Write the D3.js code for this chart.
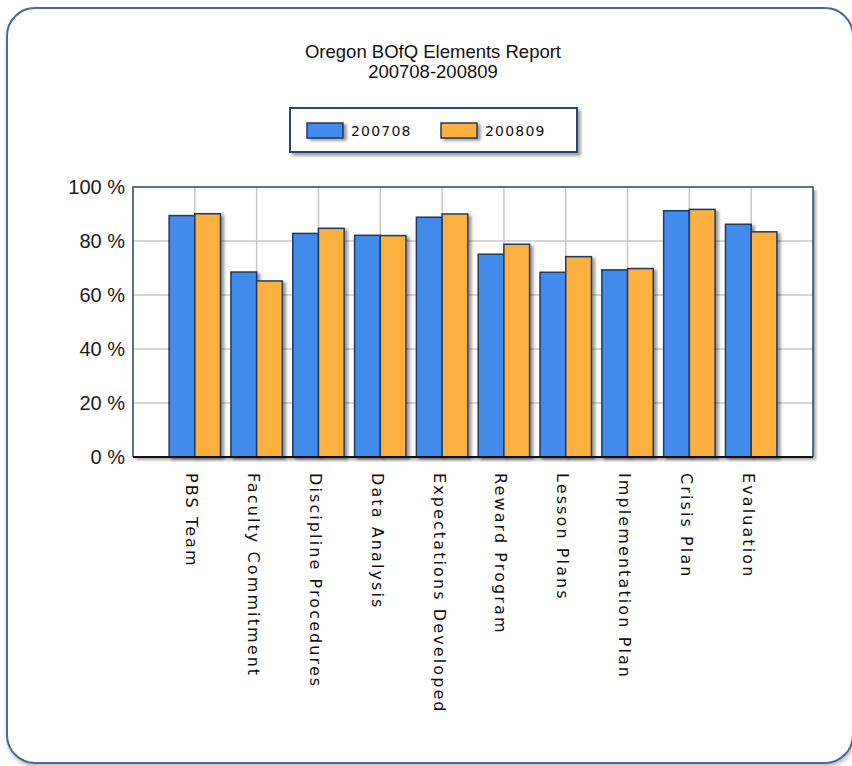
<!DOCTYPE html>
<html>
<head>
<meta charset="utf-8">
<script src="https://cdn.jsdelivr.net/npm/d3@7"></script>
<style>
  body { margin: 0; background: #fff; }
  svg { display: block; }
</style>
</head>
<body>
<div id="chart"></div>
<script>
// data
const categories = ["PBS Team", "Faculty Commitment", "Discipline Procedures", "Data Analysis",
  "Expectations Developed", "Reward Program", "Lesson Plans", "Implementation Plan",
  "Crisis Plan", "Evaluation"];
const seriesNames = ["200708", "200809"];
const values200708 = [89.4, 68.5, 82.8, 82.1, 88.8, 75.1, 68.4, 69.3, 91.2, 86.2];
const values200809 = [90.1, 65.2, 84.7, 82.0, 90.0, 78.8, 74.2, 69.8, 91.7, 83.4];
const yTicks = [0, 20, 40, 60, 80, 100];
const colors = ["#428BEB", "#FBB03F"];

const W = 852, H = 766;
const plot = { left: 133, top: 187, right: 813, bottom: 457 };

const svg = d3.select("#chart").append("svg")
  .attr("width", W)
  .attr("height", H);

const defs = svg.append("defs");
function shadow(id, dx, dy, sd, op) {
  defs.append("filter").attr("id", id)
    .attr("x", "-20%").attr("y", "-20%").attr("width", "150%").attr("height", "150%")
    .append("feDropShadow")
    .attr("dx", dx).attr("dy", dy).attr("stdDeviation", sd)
    .attr("flood-color", "#000").attr("flood-opacity", op);
}
shadow("frameShadow", 1, 3, 2, 0.25);
shadow("boxShadow", 3, 3, 1.5, 0.35);
shadow("barShadow", 3, 2, 1.5, 0.4);

// outer rounded frame
svg.append("rect")
  .attr("x", 7).attr("y", 8)
  .attr("width", 846).attr("height", 755)
  .attr("rx", 28).attr("ry", 28)
  .attr("fill", "#fff")
  .attr("stroke", "#4d6892")
  .attr("stroke-width", 2)
  .attr("filter", "url(#frameShadow)");

// title
const title = svg.append("text")
  .attr("text-anchor", "middle")
  .attr("font-family", "Liberation Sans, Arial, sans-serif")
  .attr("font-size", 18.5)
  .attr("fill", "#111");
title.append("tspan").attr("x", 433).attr("y", 58).text("Oregon BOfQ Elements Report");
title.append("tspan").attr("x", 433).attr("y", 78).text("200708-200809");

// legend
const legend = svg.append("g");
legend.append("rect")
  .attr("x", 290).attr("y", 108).attr("width", 287).attr("height", 44)
  .attr("fill", "#fff")
  .attr("stroke", "#2b4471")
  .attr("stroke-width", 2)
  .attr("filter", "url(#boxShadow)");
const legendX = [307, 441];
seriesNames.forEach((name, i) => {
  legend.append("rect")
    .attr("x", legendX[i]).attr("y", 123).attr("width", 36).attr("height", 15)
    .attr("fill", colors[i])
    .attr("stroke", "#203a62").attr("stroke-width", 1.5)
    .attr("filter", "url(#barShadow)");
  legend.append("text")
    .attr("x", legendX[i] + 44).attr("y", 136)
    .attr("font-family", "DejaVu Sans, Verdana, sans-serif")
    .attr("font-size", 14)
    .attr("letter-spacing", 1.2)
    .attr("fill", "#111")
    .text(name);
});

// scales
const x = d3.scalePoint().domain(categories).range([plot.left, plot.right]).padding(1);
const y = d3.scaleLinear().domain([0, 100]).range([plot.bottom, plot.top]);
const barW = 25.7;

// plot background with shadow
svg.append("rect")
  .attr("x", plot.left).attr("y", plot.top)
  .attr("width", plot.right - plot.left).attr("height", plot.bottom - plot.top)
  .attr("fill", "#fff")
  .attr("filter", "url(#boxShadow)");

// grid lines
const grid = svg.append("g").attr("stroke", "#c8c8c8").attr("stroke-width", 1.5);
grid.selectAll("line.h").data(yTicks.filter(d => d > 0 && d < 100)).join("line")
  .attr("x1", plot.left).attr("x2", plot.right)
  .attr("y1", d => y(d)).attr("y2", d => y(d));
grid.selectAll("line.v").data(categories).join("line")
  .attr("x1", d => x(d)).attr("x2", d => x(d))
  .attr("y1", plot.top).attr("y2", plot.bottom);

// bars
const rows = categories.map((c, i) => ({ c, v: [values200708[i], values200809[i]] }));
const bars = svg.append("g");
seriesNames.forEach((s, k) => {
  bars.selectAll("rect.s" + k).data(rows).join("rect")
    .attr("class", "s" + k)
    .attr("x", d => x(d.c) - barW + k * barW)
    .attr("y", d => y(d.v[k]))
    .attr("width", barW)
    .attr("height", d => y(0) - y(d.v[k]))
    .attr("fill", colors[k])
    .attr("stroke", "#1f3a63")
    .attr("stroke-width", 1.5)
    .attr("filter", "url(#barShadow)");
});

// plot frame
const frame = svg.append("g").attr("fill", "none");
frame.append("path")
  .attr("d", `M${plot.left},${plot.bottom}V${plot.top}H${plot.right}V${plot.bottom}`)
  .attr("stroke", "#2b4471").attr("stroke-width", 1.5);
frame.append("line")
  .attr("x1", plot.left).attr("x2", plot.right)
  .attr("y1", plot.bottom).attr("y2", plot.bottom)
  .attr("stroke", "#111").attr("stroke-width", 2);

// y axis labels
const yAxis = svg.append("g")
  .attr("transform", `translate(${plot.left},0)`)
  .call(d3.axisLeft(y).tickValues(yTicks).tickSize(0).tickPadding(8).tickFormat(d => d + " %"));
yAxis.select(".domain").remove();
yAxis.selectAll("text")
  .attr("font-family", "Liberation Sans, Arial, sans-serif")
  .attr("font-size", 20)
  .attr("fill", "#1a1a1a");

// x axis labels, rotated
svg.append("g").selectAll("text").data(categories).join("text")
  .attr("transform", d => `translate(${x(d) - 3},473) rotate(90)`)
  .attr("dominant-baseline", "central")
  .attr("font-family", "DejaVu Sans, Verdana, sans-serif")
  .attr("font-size", 16)
  .attr("letter-spacing", 2.1)
  .attr("fill", "#111")
  .text(d => d);
</script>
</body>
</html>
